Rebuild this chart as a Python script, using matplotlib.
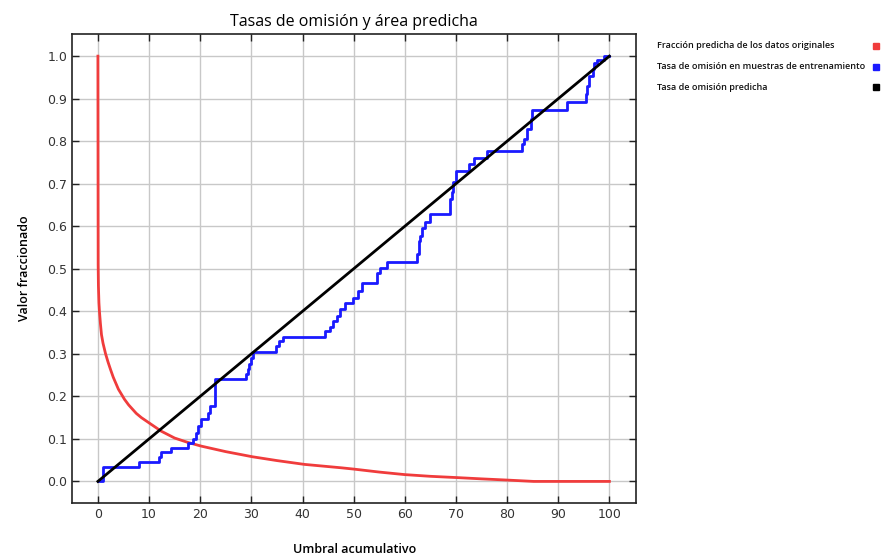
import matplotlib
matplotlib.use('Agg')
import matplotlib.pyplot as plt
from matplotlib.lines import Line2D

# Tasa de omision en muestras de entrenamiento (escalones)
umbral_entr = [0, 1.0, 8.1, 11.9, 12.4, 14.3, 17.6, 18.6, 19.2, 19.5, 20.2, 21.5, 22.0, 22.8,
               29.0, 29.3, 29.6, 30.0, 30.3, 34.9, 35.5, 36.2, 44.4, 45.3, 46.0, 46.7, 47.3,
               48.3, 49.9, 50.9, 51.6, 54.5, 55.2, 56.5, 62.4, 62.7, 63.0, 63.3, 64.0, 65.0,
               68.9, 69.2, 69.5, 70.0, 72.5, 73.5, 76.1, 82.9, 83.3, 83.9, 84.6, 84.9, 91.8,
               95.4, 95.7, 96.0, 96.7, 97.0, 97.6, 99.0, 100]
omision_entr = [0.0, 0.033, 0.045, 0.057, 0.069, 0.079, 0.091, 0.099, 0.115, 0.13, 0.146, 0.16,
                0.177, 0.24, 0.252, 0.264, 0.275, 0.29, 0.305, 0.318, 0.33, 0.34, 0.354, 0.362,
                0.377, 0.389, 0.405, 0.42, 0.432, 0.448, 0.467, 0.491, 0.503, 0.517, 0.534,
                0.565, 0.577, 0.597, 0.61, 0.628, 0.664, 0.68, 0.703, 0.73, 0.746, 0.761, 0.777,
                0.793, 0.805, 0.828, 0.852, 0.873, 0.891, 0.911, 0.93, 0.954, 0.969, 0.985,
                0.99, 1.0, 1.0]

# Fraccion predicha de los datos originales
umbral_frac = [0, 0.05, 0.1, 0.2, 0.3, 0.5, 0.7, 1.0, 1.5, 2.0, 2.5, 3.0, 4.0, 5.2, 6.0, 7.5,
               8.5, 10.2, 12.4, 15, 17.5, 20.2, 25, 30.2, 35, 40.4, 47.6, 50, 55, 60, 65, 70.2,
               75, 80.3, 85.2, 100]
fraccion = [1.0, 0.51, 0.46, 0.42, 0.40, 0.37, 0.345, 0.325, 0.30, 0.28, 0.262, 0.245, 0.217,
            0.193, 0.18, 0.16, 0.15, 0.136, 0.118, 0.102, 0.092, 0.083, 0.07, 0.058, 0.049,
            0.04, 0.032, 0.029, 0.022, 0.016, 0.012, 0.009, 0.006, 0.003, 0.0, 0.0]

# Tasa de omision predicha
umbral_pred = [0, 100]
omision_pred = [0.0, 1.0]

etiquetas = ['Fracción predicha de los datos originales',
             'Tasa de omisión en muestras de entrenamiento',
             'Tasa de omisión predicha']
colores = ['#f03c3c', '#1a1aff', 'black']

fig = plt.figure(figsize=(8.81, 5.56), dpi=100)
ax = fig.add_axes([0.0821, 0.0959, 0.6398, 0.8429])

ax.plot(umbral_frac, fraccion, color=colores[0], lw=2)
ax.plot(umbral_entr, omision_entr, color=colores[1], lw=2, drawstyle='steps-post')
ax.plot(umbral_pred, omision_pred, color=colores[2], lw=2)

ax.set_xlim(-5, 105.2)
ax.set_ylim(-0.05, 1.052)
ax.set_xticks(range(0, 101, 10))
ax.set_yticks([i / 10 for i in range(11)])
ax.set_yticklabels([f'{i / 10:.1f}' for i in range(11)])
ax.grid(True, color='#c8c8c8', lw=1)
ax.set_axisbelow(True)
ax.tick_params(direction='in', length=5, width=1, top=True, right=True,
               labelsize=9, colors='#222222', labelcolor='#333333')
for s in ax.spines.values():
    s.set_linewidth(1.2)
    s.set_color('#222222')

ax.set_title('Tasas de omisión y área predicha', fontsize=11.5, family='Open Sans', pad=6)
ax.set_xlabel('Umbral acumulativo', fontsize=9, family='Open Sans', weight='semibold', labelpad=16)
ax.set_ylabel('Valor fraccionado', fontsize=9, family='Open Sans', weight='semibold', labelpad=12)

# Leyenda a la derecha: texto alineado a la izquierda y cuadrito de color al final
for i, (txt, c) in enumerate(zip(etiquetas, colores)):
    yy = 1 - (46 + i * 20.5) / 556
    fig.text(657 / 881, yy, txt, fontsize=6.45, family='Open Sans', weight='semibold',
             ha='left', va='center', color='#111111')
    fig.add_artist(Line2D([876 / 881], [yy], marker='s', ls='none', color=c,
                          markersize=5, transform=fig.transFigure))

fig.savefig('out.png', dpi=100)
